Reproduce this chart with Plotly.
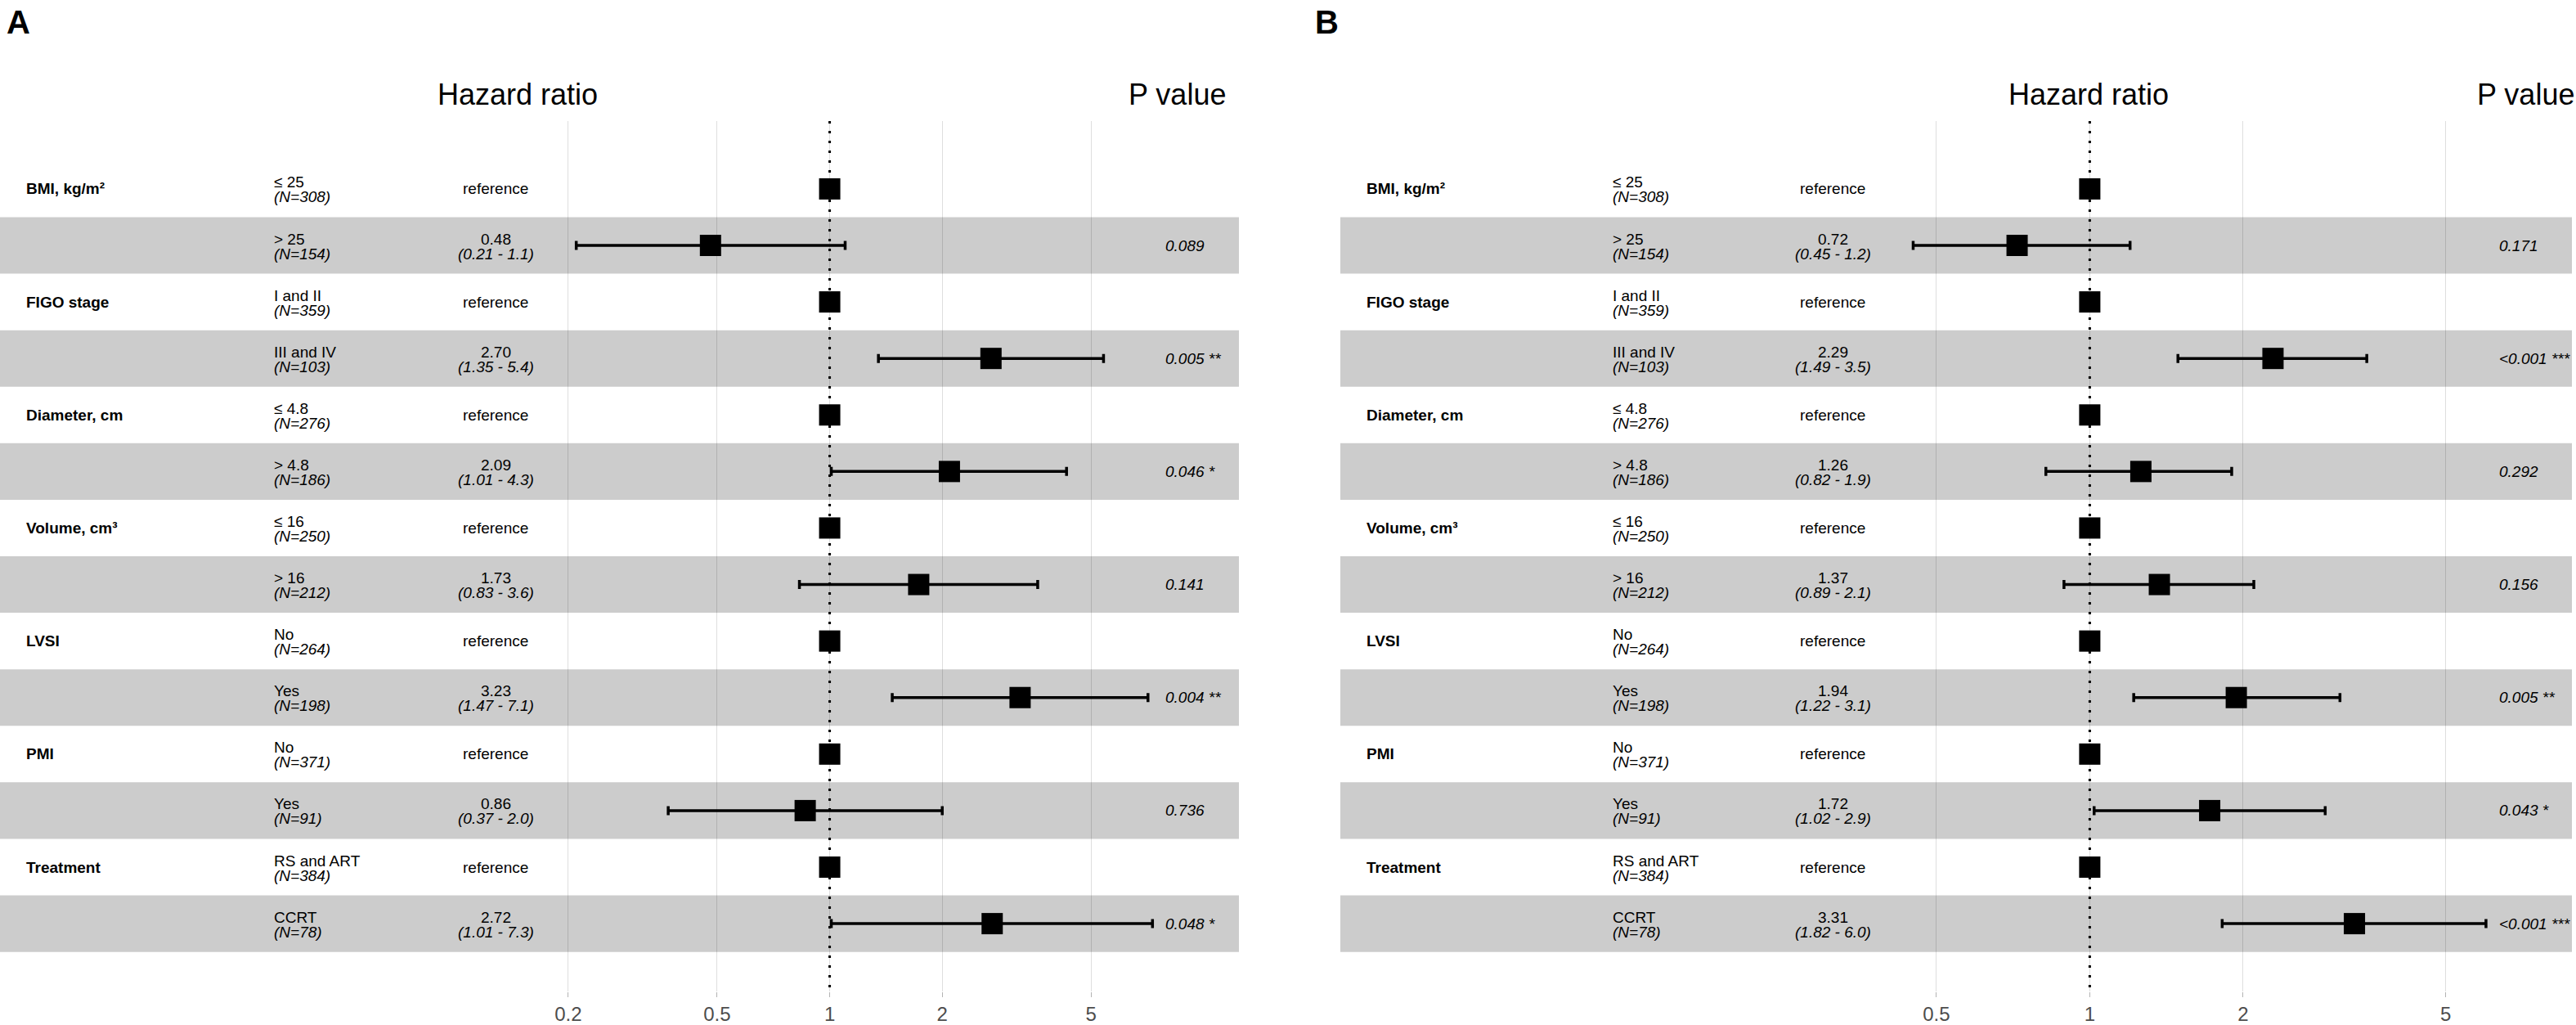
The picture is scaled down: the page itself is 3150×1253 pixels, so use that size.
import math
import plotly.graph_objects as go

# ---------------- data ----------------
variables = ["BMI, kg/m²", "FIGO stage", "Diameter, cm", "Volume, cm³", "LVSI", "PMI", "Treatment"]
ref_levels = ["≤ 25", "I and II", "≤ 4.8", "≤ 16", "No", "No", "RS and ART"]
ref_n = [308, 359, 276, 250, 264, 371, 384]
cmp_levels = ["> 25", "III and IV", "> 4.8", "> 16", "Yes", "Yes", "CCRT"]
cmp_n = [154, 103, 186, 212, 198, 91, 78]

a_hr = [0.48, 2.70, 2.09, 1.73, 3.23, 0.86, 2.72]
a_lo = [0.21, 1.35, 1.01, 0.83, 1.47, 0.37, 1.01]
a_hi = [1.1, 5.4, 4.3, 3.6, 7.1, 2.0, 7.3]
a_p = ["0.089", "0.005 **", "0.046 *", "0.141", "0.004 **", "0.736", "0.048 *"]

b_hr = [0.72, 2.29, 1.26, 1.37, 1.94, 1.72, 3.31]
b_lo = [0.45, 1.49, 0.82, 0.89, 1.22, 1.02, 1.82]
b_hi = [1.2, 3.5, 1.9, 2.1, 3.1, 2.9, 6.0]
b_p = ["0.171", "<0.001 ***", "0.292", "0.156", "0.005 **", "0.043 *", "<0.001 ***"]

ticks_a = [0.2, 0.5, 1, 2, 5]
ticks_b = [0.5, 1, 2, 5]

# ---------------- styling ----------------
W, H = 3150, 1253
TOP, BOT = 148, 1216
FONT = "Liberation Sans"
TXT = 19
BAND = "rgba(0,0,0,0.2)"

ref_rows = [2 * i + 1 for i in range(len(variables))]
cmp_rows = [2 * i + 2 for i in range(len(variables))]
n_rows = 2 * len(variables)
y_range = [n_rows + 1.2, -0.2]

fig = go.Figure()
annotations = []
shapes = []


def px(v):
    return v / W


def py(v):
    return (BOT - v) / (BOT - TOP)


def panel(xa, hr, lo, hi, pv, ticks, domain, label, label_x, hr_title_x, p_title_x):
    xref = xa  # 'x' or 'x2'
    llo = math.log10(min(lo))
    lhi = math.log10(max(hi))
    d = lhi - llo
    rng = [llo - d, lhi + 0.15 * d]
    width = rng[1] - rng[0]
    x_var = rng[0] + 0.02 * width
    x_lev = rng[0] + 0.22 * width
    x_ci = rng[0] + 0.40 * width

    # alternating bands
    for r in cmp_rows:
        shapes.append(dict(type="rect", xref=xref + " domain", yref="y",
                           x0=0, x1=1, y0=r - 0.5, y1=r + 0.5,
                           fillcolor=BAND, line=dict(width=0), layer="below"))

    # dotted reference line at HR = 1
    fig.add_trace(go.Scatter(x=[1, 1], y=[y_range[1], y_range[0]], mode="lines",
                             line=dict(color="black", width=3, dash="3px,9px"),
                             xaxis=xref, yaxis="y", hoverinfo="skip"))
    # reference squares
    fig.add_trace(go.Scatter(x=[1] * len(ref_rows), y=ref_rows, mode="markers",
                             marker=dict(symbol="square", size=26, color="black", line=dict(width=0)),
                             xaxis=xref, yaxis="y"))
    # estimates with CI
    fig.add_trace(go.Scatter(
        x=hr, y=cmp_rows, mode="markers",
        marker=dict(symbol="square", size=26, color="black", line=dict(width=0)),
        error_x=dict(type="data", symmetric=False,
                     array=[h - e for h, e in zip(hi, hr)],
                     arrayminus=[e - l for e, l in zip(hr, lo)],
                     color="black", thickness=3.5, width=5.5),
        xaxis=xref, yaxis="y"))

    def ann(x, y, text, xanchor="left", yshift=0, bold=False, italic=False, xshift=0, size=TXT):
        t = text
        if bold:
            t = "<b>" + t + "</b>"
        if italic:
            t = "<i>" + t + "</i>"
        annotations.append(dict(x=x, y=y, xref=xref, yref="y", text=t, showarrow=False,
                                xanchor=xanchor, yanchor="middle", yshift=yshift, xshift=xshift,
                                font=dict(family=FONT, size=size, color="black")))

    for i, var in enumerate(variables):
        r1, r2 = ref_rows[i], cmp_rows[i]
        ann(x_var, r1, var, bold=True)
        ann(x_lev, r1, ref_levels[i], yshift=8)
        ann(x_lev, r1, "(N=%d)" % ref_n[i], yshift=-10, italic=True)
        ann(x_ci, r1, "reference", xanchor="center")
        ann(x_lev, r2, cmp_levels[i], yshift=8)
        ann(x_lev, r2, "(N=%d)" % cmp_n[i], yshift=-10, italic=True)
        ann(x_ci, r2, "%.2f" % hr[i], xanchor="center", yshift=8)
        ann(x_ci, r2, "(%.2f - %.1f)" % (lo[i], hi[i]), xanchor="center", yshift=-10, italic=True)
        ann(lhi, r2, pv[i], italic=True, xshift=14)

    # headers and panel letter
    annotations.append(dict(x=px(hr_title_x), y=py(115), xref="paper", yref="paper",
                            text="Hazard ratio", showarrow=False, xanchor="center", yanchor="middle",
                            font=dict(family=FONT, size=36, color="black")))
    annotations.append(dict(x=px(p_title_x), y=py(115), xref="paper", yref="paper",
                            text="P value", showarrow=False, xanchor="center", yanchor="middle",
                            font=dict(family=FONT, size=36, color="black")))
    annotations.append(dict(x=px(label_x), y=py(27), xref="paper", yref="paper",
                            text="<b>" + label + "</b>", showarrow=False, xanchor="left", yanchor="middle",
                            font=dict(family=FONT, size=40, color="black")))

    return dict(type="log", range=rng, domain=domain, anchor="y",
                tickmode="array", tickvals=ticks, ticktext=["%g" % t for t in ticks],
                showgrid=True, gridcolor="rgba(0,0,0,0.13)", gridwidth=1.2, zeroline=False,
                showline=False, ticks="outside", ticklen=6, tickwidth=1.2, tickcolor="#b3b3b3",
                tickfont=dict(family=FONT, size=24, color="#4d4d4d"), fixedrange=True)


xa = panel("x", a_hr, a_lo, a_hi, a_p, ticks_a, [0, px(1515)], "A", 6, 633, 1439)
xb = panel("x2", b_hr, b_lo, b_hi, b_p, ticks_b, [px(1639), px(3145)], "B", 1606, 2554, 3088)

fig.update_layout(
    width=W, height=H,
    margin=dict(l=0, r=0, t=TOP, b=H - BOT, pad=0),
    paper_bgcolor="white", plot_bgcolor="white",
    showlegend=False,
    xaxis=xa, xaxis2=xb,
    yaxis=dict(range=y_range, visible=False, showgrid=False, zeroline=False, fixedrange=True),
    annotations=annotations, shapes=shapes,
    font=dict(family=FONT),
)

fig.write_html("out.html", config={"displayModeBar": False},
               post_script="document.body.style.margin='0';document.body.style.overflow='hidden';")
